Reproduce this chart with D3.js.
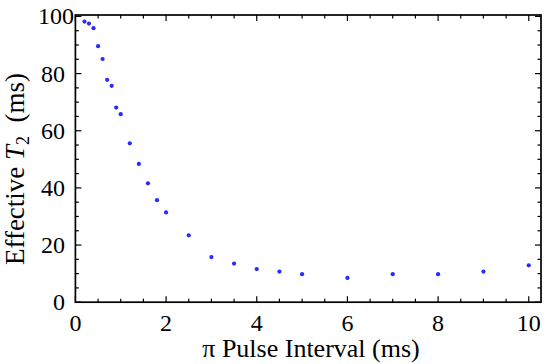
<!DOCTYPE html>
<html>
<head>
<meta charset="utf-8">
<script src="https://d3js.org/d3.v7.min.js"></script>
<style>
  body { margin: 0; background: #fff; }
</style>
</head>
<body>
<script>
// pi pulse interval (ms) and effective T2 (ms)
const interval = [0.2, 0.3, 0.4, 0.5, 0.6, 0.7, 0.8, 0.9, 1.0, 1.2, 1.4, 1.6, 1.8, 2.0,
                  2.5, 3, 3.5, 4, 4.5, 5, 6, 7, 8, 9, 10];
const t2 = [98.2, 97.5, 95.9, 89.6, 85.1, 77.8, 75.7, 68.1, 65.8, 55.6, 48.4, 41.6, 35.7, 31.4,
            23.4, 15.8, 13.5, 11.6, 10.7, 9.8, 8.5, 9.8, 9.8, 10.7, 12.9];
const xMajor = [0, 2, 4, 6, 8, 10];
const yMajor = [0, 20, 40, 60, 80, 100];

const W = 546, H = 364;
const serif = "'Liberation Serif', 'Times New Roman', serif";
const x = d3.scaleLinear().domain([0, 10.27]).range([75.4, 541]);
const y = d3.scaleLinear().domain([0, 100.5]).range([302.2, 15]);

const svg = d3.select("body").append("svg")
  .attr("width", W).attr("height", H)
  .attr("font-family", serif);

const xMinor = d3.range(0, 10.01, 0.5).filter(v => v % 2 !== 0);
const yMinor = d3.range(0, 100.1, 5).filter(v => v % 20 !== 0);

const ticks = svg.append("g").attr("stroke", "#000").attr("stroke-width", 1.2);
const [x0, x1] = x.range(), [y0, y1] = y.range();

function tickLines(vals, len) {
  vals.forEach(v => {
    ticks.append("line").attr("x1", x(v)).attr("x2", x(v)).attr("y1", y0).attr("y2", y0 - len);
    ticks.append("line").attr("x1", x(v)).attr("x2", x(v)).attr("y1", y1).attr("y2", y1 + len);
  });
}
function tickLinesY(vals, len) {
  vals.forEach(v => {
    ticks.append("line").attr("y1", y(v)).attr("y2", y(v)).attr("x1", x0).attr("x2", x0 + len);
    ticks.append("line").attr("y1", y(v)).attr("y2", y(v)).attr("x1", x1).attr("x2", x1 - len);
  });
}
tickLines(xMajor, 6);
tickLines(xMinor, 3.5);
tickLinesY(yMajor, 6);
tickLinesY(yMinor, 3.5);

// frame
svg.append("rect")
  .attr("x", x0).attr("y", y1)
  .attr("width", x1 - x0).attr("height", y0 - y1)
  .attr("fill", "none").attr("stroke", "#000").attr("stroke-width", 1.7);

// tick labels
svg.append("g").selectAll("text").data(xMajor).join("text")
  .attr("font-family", serif)
  .attr("x", d => x(d)).attr("y", 331)
  .attr("text-anchor", "middle").attr("font-size", 24)
  .text(d => d);

svg.append("g").selectAll("text").data(yMajor).join("text")
  .attr("font-family", serif)
  .attr("x", d => d === 100 ? 74 : 65).attr("y", d => y(d) + 8)
  .attr("text-anchor", "end").attr("font-size", 24)
  .text(d => d);

// axis labels
svg.append("text")
  .attr("font-family", serif)
  .attr("x", 311).attr("y", 357)
  .attr("text-anchor", "middle").attr("font-size", 26)
  .text("\u03c0 Pulse Interval (ms)");

const yl = svg.append("text")
  .attr("font-family", serif)
  .attr("transform", "translate(24,169) rotate(-90)")
  .attr("text-anchor", "middle").attr("font-size", 27);
yl.append("tspan").text("Effective ");
yl.append("tspan").attr("font-style", "italic").text("T");
yl.append("tspan").attr("font-size", 18).attr("dy", 5).text("2");
yl.append("tspan").attr("dy", -5).text("\u2002(ms)");

// data points
svg.append("g").selectAll("circle").data(interval).join("circle")
  .attr("cx", d => x(d))
  .attr("cy", (d, i) => y(t2[i]))
  .attr("r", 2.1)
  .attr("fill", "#2a2aff");
</script>
</body>
</html>
